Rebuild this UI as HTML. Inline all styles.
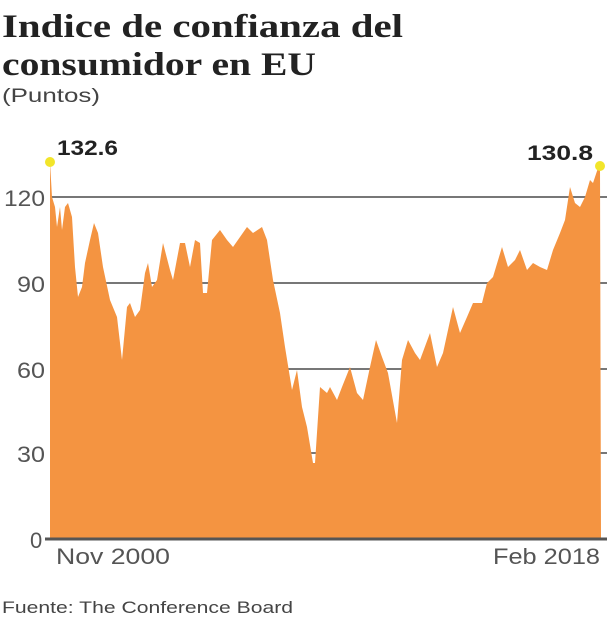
<!DOCTYPE html>
<html><head><meta charset="utf-8"><style>
html,body{margin:0;padding:0;background:#fff;}
svg{display:block;}
</style></head><body>
<svg width="607" height="620" xmlns="http://www.w3.org/2000/svg">
<text x="2" y="37" font-family="Liberation Serif, serif" font-weight="bold" font-size="33" fill="#222" textLength="401" lengthAdjust="spacingAndGlyphs">Indice de confianza del</text>
<text x="2" y="75" font-family="Liberation Serif, serif" font-weight="bold" font-size="33" fill="#222" textLength="314" lengthAdjust="spacingAndGlyphs">consumidor en EU</text>
<text x="2" y="102" font-family="Liberation Sans, sans-serif" font-size="19" fill="#444" textLength="98" lengthAdjust="spacingAndGlyphs">(Puntos)</text>
<g stroke="#777" stroke-width="2">
<line x1="50" y1="197" x2="607" y2="197"/>
<line x1="50" y1="283" x2="607" y2="283"/>
<line x1="50" y1="369" x2="607" y2="369"/>
<line x1="50" y1="453" x2="607" y2="453"/>
</g>
<path fill="#f49441" d="M50,540 L50,162 L52,197 L55,207 L57,227 L60,207 L62,230 L65,207 L68,203 L72,217 L75,267 L78,297 L82,287 L85,263 L90,240 L94,223 L98,233 L103,267 L110,300 L117,317 L122,360 L127,307 L130,303 L135,317 L140,310 L145,273 L148,263 L152,287 L157,280 L163,243 L170,270 L173,280 L180,243 L185,243 L190,267 L195,240 L200,243 L203,293 L207,293 L212,240 L220,230 L227,240 L233,247 L240,237 L247,227 L253,233 L262,227 L267,240 L273,280 L280,313 L285,347 L292,390 L297,370 L302,407 L307,427 L313,463 L315,463 L320,387 L327,393 L330,387 L337,400 L342,387 L350,367 L357,393 L363,400 L370,367 L376,340 L382,357 L388,373 L397,423 L402,360 L408,340 L415,353 L420,360 L430,333 L437,367 L443,353 L453,307 L460,333 L467,317 L473,303 L482,303 L487,283 L493,277 L502,247 L508,267 L515,260 L520,250 L527,270 L533,263 L540,267 L547,270 L553,250 L560,233 L565,220 L570,187 L575,203 L580,207 L585,197 L590,180 L593,183 L598,168 L600,167 L601,540 Z"/>
<line x1="45" y1="539" x2="607" y2="539" stroke="#555" stroke-width="3"/>
<circle cx="50" cy="162" r="5" fill="#f2e52a"/>
<circle cx="600" cy="166" r="5" fill="#f2e52a"/>
<g font-family="Liberation Sans, sans-serif" font-size="22" fill="#555">
<text x="4" y="206" textLength="41" lengthAdjust="spacingAndGlyphs">120</text>
<text x="17" y="292" textLength="28" lengthAdjust="spacingAndGlyphs">90</text>
<text x="17" y="378" textLength="28" lengthAdjust="spacingAndGlyphs">60</text>
<text x="17" y="462" textLength="28" lengthAdjust="spacingAndGlyphs">30</text>
<text x="30" y="548">0</text>
<text x="56" y="564" textLength="114" lengthAdjust="spacingAndGlyphs">Nov 2000</text>
<text x="493" y="564" textLength="107" lengthAdjust="spacingAndGlyphs">Feb 2018</text>
</g>
<g font-family="Liberation Sans, sans-serif" font-size="21" font-weight="bold" fill="#222">
<text x="57" y="155" textLength="61" lengthAdjust="spacingAndGlyphs">132.6</text>
<text x="527" y="160" textLength="66" lengthAdjust="spacingAndGlyphs">130.8</text>
</g>
<text x="2" y="613" font-family="Liberation Sans, sans-serif" font-size="17" fill="#444" textLength="291" lengthAdjust="spacingAndGlyphs">Fuente: The Conference Board</text>
</svg>
</body></html>
